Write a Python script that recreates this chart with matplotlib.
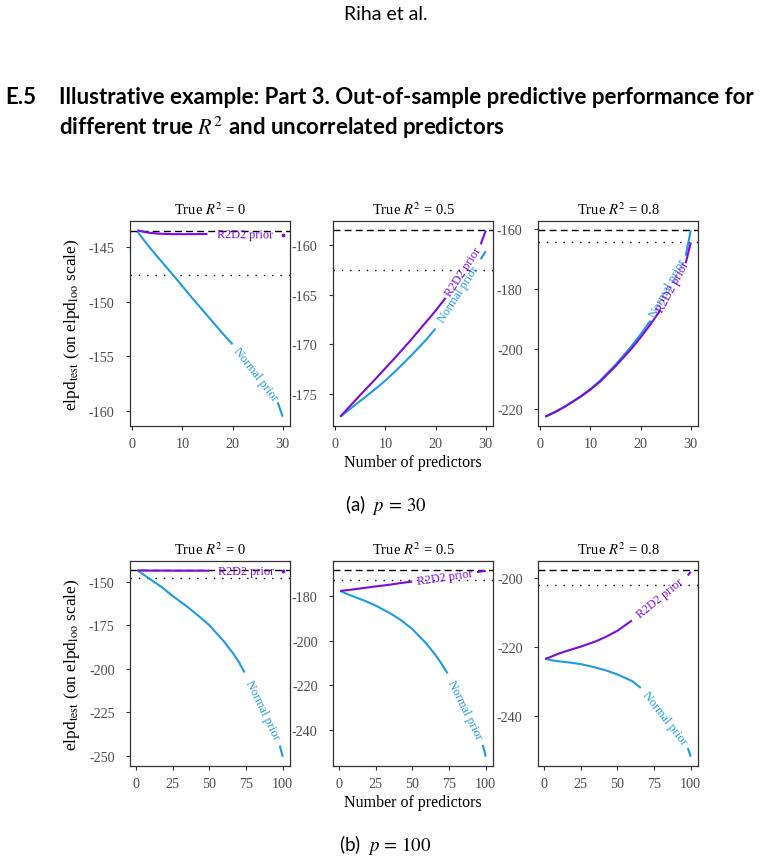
import matplotlib
matplotlib.use("Agg")
import matplotlib.pyplot as plt
import numpy as np

# values (elpd_test on elpd_loo scale)
x_p30 = [1, 3, 5, 8, 10, 12, 15, 18, 20, 22, 24, 27, 29, 30]
x_p100 = [1, 5, 10, 18, 25, 35, 42, 50, 60, 66, 70, 74, 80, 90, 94, 98, 100]

# p = 30
normal_p30_r0 = [-143.6, -144.8, -145.9, -147.5, -148.6, -149.7, -151.3, -152.9, -153.9, -155.1, -156.3, -158.0, -159.2, -160.5]
r2d2_p30_r0 = [-143.5, -143.7, -143.8, -143.85, -143.85, -143.85, -143.83, -143.85, -143.85, -143.87, -143.88, -143.9, -143.9, -143.9]
normal_p30_r05 = [-177.3, -176.5, -175.7, -174.5, -173.65, -172.7, -171.2, -169.6, -168.4, -167.0, -165.6, -163.3, -161.4, -160.6]
r2d2_p30_r05 = [-177.3, -176.2, -175.1, -173.5, -172.4, -171.3, -169.6, -167.8, -166.6, -165.3, -164.0, -161.8, -159.9, -158.5]
normal_p30_r08 = [-222.6, -221.0, -219.1, -215.9, -213.4, -210.5, -205.3, -199.5, -195.2, -190.6, -186.0, -177.0, -169.0, -160.6]
r2d2_p30_r08 = [-222.6, -221.0, -219.2, -216.0, -213.6, -210.8, -205.8, -200.3, -196.2, -191.8, -187.0, -178.8, -171.5, -164.6]

# p = 100
normal_p100_r0 = [-143.3, -145.6, -148.5, -153.2, -158.0, -164.2, -169.0, -174.8, -184.2, -190.8, -195.8, -202.0, -211.0, -227.5, -235.5, -244.0, -250.4]
r2d2_p100_r0 = [-143.3, -143.4, -143.45, -143.45, -143.5, -143.5, -143.5, -143.5, -143.5, -143.5, -143.5, -143.5, -143.5, -143.5, -143.5, -143.5, -143.5]
normal_p100_r05 = [-177.8, -179.0, -180.3, -182.3, -184.3, -187.8, -190.7, -194.8, -201.6, -206.6, -210.4, -214.6, -221.5, -234.0, -240.0, -246.5, -251.8]
r2d2_p100_r05 = [-177.8, -177.5, -177.1, -176.4, -175.8, -175.0, -174.3, -173.6, -172.7, -172.1, -171.7, -171.3, -170.8, -169.8, -169.4, -169.0, -168.9]
normal_p100_r08 = [-223.5, -223.9, -224.2, -224.6, -225.0, -226.0, -226.8, -228.0, -229.9, -231.9, -233.3, -235.0, -237.5, -242.5, -245.0, -249.3, -251.8]
r2d2_p100_r08 = [-223.5, -222.9, -222.0, -220.9, -220.0, -218.5, -217.2, -215.4, -212.4, -210.3, -208.9, -207.6, -205.7, -202.4, -201.0, -199.4, -198.3]

# reference lines
dashed_p30 = [-143.57, -158.48, -160.55]
dotted_p30 = [-147.55, -162.46, -164.4]
dashed_p100 = [-143.3, -168.6, -197.9]
dotted_p100 = [-147.5, -172.9, -202.2]

r2_labels = ["0", "0.5", "0.8"]
yticks_p30 = [[-145, -150, -155, -160], [-160, -165, -170, -175], [-160, -180, -200, -220]]
yticks_p100 = [[-150, -175, -200, -225, -250], [-180, -200, -220, -240], [-200, -220, -240]]
xticks_p30 = [0, 10, 20, 30]
xticks_p100 = [0, 25, 50, 75, 100]

PURPLE = "#7A0CDC"
BLUE = "#1F9BE3"
INK = "#333333"

plt.rcParams["font.family"] = ["Liberation Serif", "DejaVu Serif"]
plt.rcParams["mathtext.fontset"] = "stix"
plt.rcParams["axes.unicode_minus"] = False


def draw_series(ax, x, y, gap, label, color):
    # line broken where the label sits, like a text-path label
    x = np.asarray(x, float)
    y = np.asarray(y, float)
    lo = x <= gap[0]
    hi = x >= gap[1]
    ax.plot(x[lo], y[lo], color=color, lw=1.5, solid_capstyle="butt")
    if hi.sum() > 1:
        ax.plot(x[hi], y[hi], color=color, lw=1.5, solid_capstyle="butt")
    else:
        ax.plot(x[hi], y[hi], "o", color=color, ms=1.8)
    y0 = np.interp(gap[0], x, y)
    y1 = np.interp(gap[1], x, y)
    ang = np.degrees(np.arctan2(y1 - y0, gap[1] - gap[0]))
    ax.text((gap[0] + gap[1]) / 2, (y0 + y1) / 2, label, color=color, fontsize=8.8,
            rotation=ang, transform_rotates_text=True, rotation_mode="anchor",
            ha="center", va="center")


def style_axes(ax, r2, xticks, yticks):
    for s in ax.spines.values():
        s.set_color(INK)
        s.set_linewidth(0.9)
    ax.tick_params(direction="out", length=3, width=0.8, color=INK,
                   labelcolor="#4D4D4D", labelsize=10.2)
    ax.tick_params(axis="y", pad=8)
    ax.tick_params(axis="x", pad=5)
    ax.set_xticks(xticks)
    ax.set_yticks(yticks)
    ax.set_title("True $R^2$ = %s" % r2, fontsize=10.5, pad=5)


fig = plt.figure(figsize=(7.71, 8.62), dpi=100)
W, H = 771, 862
lefts = [130, 333, 538]
aw, ah = 160, 205

rows = [
    (427, x_p30, [(normal_p30_r0, r2d2_p30_r0), (normal_p30_r05, r2d2_p30_r05), (normal_p30_r08, r2d2_p30_r08)],
     dashed_p30, dotted_p30, yticks_p30, xticks_p30,
     [((20, 29), (15, 30)), ((20, 29), (22, 29)), ((22, 29), (24, 29))]),
    (767, x_p100, [(normal_p100_r0, r2d2_p100_r0), (normal_p100_r05, r2d2_p100_r05), (normal_p100_r08, r2d2_p100_r08)],
     dashed_p100, dotted_p100, yticks_p100, xticks_p100,
     [((74, 98), (50, 100)), ((74, 98), (50, 94)), ((66, 98), (60, 98))]),
]

for bottom, xs, series, dashed, dotted, yts, xts, gaps in rows:
    for i in range(3):
        ax = fig.add_axes([lefts[i] / W, 1 - bottom / H, aw / W, ah / H])
        ax.axhline(dashed[i], color="black", lw=1.0, ls=(0, (5, 3)))
        ax.axhline(dotted[i], color="black", lw=1.0, ls=(0, (1, 5)))
        normal, r2d2 = series[i]
        draw_series(ax, xs, normal, gaps[i][0], "Normal prior", BLUE)
        draw_series(ax, xs, r2d2, gaps[i][1], "R2D2 prior", PURPLE)
        ax.margins(x=0.05, y=0.05)
        style_axes(ax, r2_labels[i], xts, yts[i])
        if i == 0:
            ax.set_ylabel(r"elpd$_\mathrm{test}$ (on elpd$_\mathrm{loo}$ scale)", fontsize=12.5, labelpad=5)
        if i == 1:
            ax.set_xlabel("Number of predictors", fontsize=11.5, labelpad=3)

# page text around the figure
fig.text(0.5, 1 - 15 / H, "Riha et al.", ha="center", va="center", fontsize=14, family="Lato")
fig.text(5 / W, 1 - 97 / H, "E.5", ha="left", va="center", fontsize=16, family="Lato", weight="bold")
fig.text(59 / W, 1 - 97 / H, "Illustrative example: Part 3. Out-of-sample predictive performance for",
         ha="left", va="center", fontsize=16, family="Lato", weight="bold")
fig.text(59 / W, 1 - 128 / H, "different true $R^2$ and uncorrelated predictors",
         ha="left", va="center", fontsize=16, family="Lato", weight="bold")
fig.text(0.5, 1 - 505 / H, "(a)  $p\\,=\\,30$", ha="center", va="center", fontsize=13.5, family="Lato")
fig.text(0.5, 1 - 845 / H, "(b)  $p\\,=\\,100$", ha="center", va="center", fontsize=13.5, family="Lato")

fig.savefig("out.png", dpi=100)
